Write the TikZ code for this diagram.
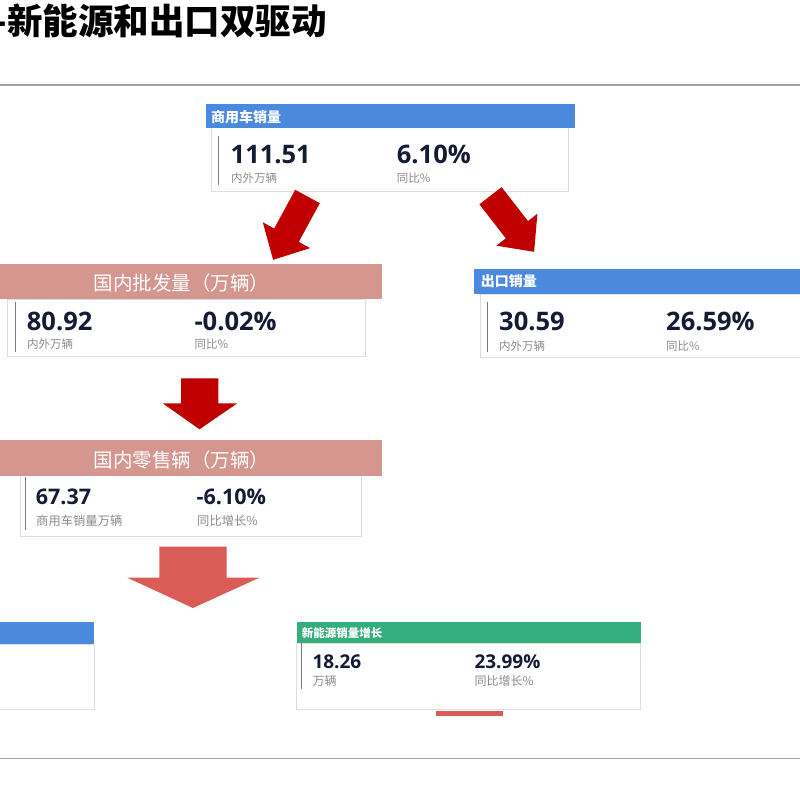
\documentclass[tikz,border=0pt]{standalone}
\usepackage{fontspec}
\setmainfont{Open Sans}
\newfontfamily\cjk{Noto Sans CJK SC}
\newfontfamily\numf{Open Sans}
\definecolor{hblue}{HTML}{4A89DC}
\definecolor{hpink}{HTML}{D4968E}
\definecolor{hgreen}{HTML}{35AE7E}
\definecolor{darkred}{HTML}{C00000}
\definecolor{lightred}{HTML}{D95C57}
\definecolor{numcol}{HTML}{141B33}
\definecolor{lblgray}{HTML}{8C8C8C}
\definecolor{bordergray}{HTML}{DEDEDE}
\definecolor{bargray}{HTML}{7A7A7A}
\definecolor{rulegray}{HTML}{A0A0A0}
\begin{document}
\begin{tikzpicture}[x=1pt,y=-1pt,
  box/.style={anchor=north west, inner sep=0, outer sep=0},
  body/.style={box, draw=bordergray, fill=white, line width=0.8pt},
  hdrblue/.style={box, fill=hblue},
  hdrpink/.style={box, fill=hpink},
  hdrgreen/.style={box, fill=hgreen},
  htxt/.style={anchor=base west, inner sep=0, text=white, font=\cjk\bfseries\fontsize{14}{14}\selectfont},
  ptxt/.style={anchor=base, inner sep=0, text=white, font=\cjk\fontsize{19.5}{19.5}\selectfont},
  num/.style={anchor=base west, inner sep=0, text=numcol, font=\numf\bfseries\fontsize{25.5}{25.5}\selectfont},
  lbl/.style={anchor=base west, inner sep=0, text=lblgray, font=\cjk\fontsize{11.5}{11.5}\selectfont},
  vbar/.style={draw=bargray, line width=1.4pt},
  rule/.style={draw=rulegray, line width=1.2pt},
  bigarrow/.style={fill=darkred, draw=none},
  lightarrow/.style={fill=lightred, draw=none}
]
\useasboundingbox (0,0) rectangle (800,800);
\fill[white] (0,0) rectangle (800,800);

% title and rules
\node[anchor=base east, inner sep=0, font=\cjk\bfseries\fontsize{35.5}{35.5}\selectfont] (title) at (327,35) {-新能源和出口双驱动};
\coordinate (r1a) at (0,85); \coordinate (r1b) at (800,85);
\coordinate (r2a) at (0,758.3); \coordinate (r2b) at (800,758.3);
\draw[rule] (r1a) -- (r1b);
\draw[rule] (r2a) -- (r2b);

% card 1
\node[body, minimum width=357.3pt, minimum height=64pt] (b1) at (211,127.7) {};
\node[hdrblue, minimum width=369pt, minimum height=23.4pt] (h1) at (206,104.3) {};
\node[htxt] (h1t) at (211,122) {商用车销量};
\coordinate (v1a) at (218.3,135.7); \coordinate (v1b) at (218.3,185);
\draw[vbar] (v1a) -- (v1b);
\node[num] (n1a) at (230.5,163.3) {111.51};
\node[lbl] (l1a) at (231,182.7) {内外万辆};
\node[num] (n1b) at (396.7,163.3) {6.10\%};
\node[lbl] (l1b) at (396.7,182.7) {同比\%};

% card 2
\node[body, minimum width=358.4pt, minimum height=57.4pt] (b2) at (7.3,299.3) {};
\node[hdrpink, minimum width=382.3pt, minimum height=35pt] (h2) at (0,264.3) {};
\node[ptxt] (h2t) at (181.5,290.5) {国内批发量（万辆）};
\coordinate (v2a) at (15.3,301.7); \coordinate (v2b) at (15.3,351.7);
\draw[vbar] (v2a) -- (v2b);
\node[num] (n2a) at (26.7,330.5) {80.92};
\node[lbl] (l2a) at (27,348.4) {内外万辆};
\node[num] (n2b) at (194.3,330.5) {-0.02\%};
\node[lbl] (l2b) at (194.3,348.4) {同比\%};

% card 3
\node[body, minimum width=330pt, minimum height=63.3pt] (b3) at (480.7,294) {};
\node[hdrblue, minimum width=340pt, minimum height=24.7pt] (h3) at (474,269.3) {};
\node[htxt] (h3t) at (480.7,286.8) {出口销量};
\coordinate (v3a) at (487.3,301.7); \coordinate (v3b) at (487.3,351.7);
\draw[vbar] (v3a) -- (v3b);
\node[num] (n3a) at (499,330.5) {30.59};
\node[lbl] (l3a) at (499,350.4) {内外万辆};
\node[num] (n3b) at (666,330.5) {26.59\%};
\node[lbl] (l3b) at (666,350.4) {同比\%};

% card 4
\node[body, minimum width=341pt, minimum height=60.3pt] (b4) at (20.7,475.7) {};
\node[hdrpink, minimum width=382.3pt, minimum height=35.7pt] (h4) at (0,440) {};
\node[ptxt] (h4t) at (181.5,467.4) {国内零售辆（万辆）};
\coordinate (v4a) at (25.7,476.7); \coordinate (v4b) at (25.7,530);
\draw[vbar] (v4a) -- (v4b);
\node[num, font=\numf\bfseries\fontsize{21.5}{21.5}\selectfont] (n4a) at (35.7,504) {67.37};
\node[lbl, font=\cjk\fontsize{12.3}{12.3}\selectfont] (l4a) at (36,525.4) {商用车销量万辆};
\node[num, font=\numf\bfseries\fontsize{21.5}{21.5}\selectfont] (n4b) at (196.5,504) {-6.10\%};
\node[lbl, font=\cjk\fontsize{12.3}{12.3}\selectfont] (l4b) at (197,525.4) {同比增长\%};

% card 5 (cut off at left)
\node[body, minimum width=104.7pt, minimum height=65.3pt] (b5) at (-10,644) {};
\node[hdrblue, minimum width=104pt, minimum height=22.3pt] (h5) at (-10,621.7) {};

% card 6
\node[body, minimum width=344pt, minimum height=66pt] (b6) at (296.7,643.3) {};
\node[hdrgreen, minimum width=344pt, minimum height=21.6pt] (h6) at (296.7,621.7) {};
\node[htxt, font=\cjk\bfseries\fontsize{11.5}{11.5}\selectfont] (h6t) at (301.7,637.1) {新能源销量增长};
\coordinate (v6a) at (301.7,643.3); \coordinate (v6b) at (301.7,689.3);
\draw[vbar] (v6a) -- (v6b);
\node[num, font=\numf\bfseries\fontsize{19}{19}\selectfont] (n6a) at (312.3,668) {18.26};
\node[lbl, font=\cjk\fontsize{12}{12}\selectfont] (l6a) at (312.3,685.6) {万辆};
\node[num, font=\numf\bfseries\fontsize{19}{19}\selectfont] (n6b) at (474.3,668) {23.99\%};
\node[lbl, font=\cjk\fontsize{12}{12}\selectfont] (l6b) at (474.3,685.6) {同比增长\%};

% small red bar
\node[box, fill=lightred, minimum width=66.7pt, minimum height=5.3pt] (rbar) at (436,710.7) {};

% arrows
\fill[bigarrow] (295.2,189.8) -- (319.8,203.2) -- (298.8,241.9) -- (310.2,248.1) -- (273.1,259.8) -- (262.8,222.3) -- (274.2,228.5) -- cycle;
\fill[bigarrow] (479.4,204.3) -- (501.6,187.1) -- (528.0,221.1) -- (537.4,213.7) -- (534.1,251.8) -- (496.4,245.7) -- (505.8,238.3) -- cycle;
\fill[bigarrow] (181,378.3) -- (218.3,378.3) -- (218.3,403.3) -- (237.3,403.3) -- (199.5,429.3) -- (162.7,403.3) -- (181,403.3) -- cycle;
\fill[lightarrow] (159.3,546.5) -- (226.7,546.5) -- (226.7,577.7) -- (259.3,577.7) -- (193,608) -- (127.3,577.7) -- (159.3,577.7) -- cycle;
\end{tikzpicture}
\end{document}
